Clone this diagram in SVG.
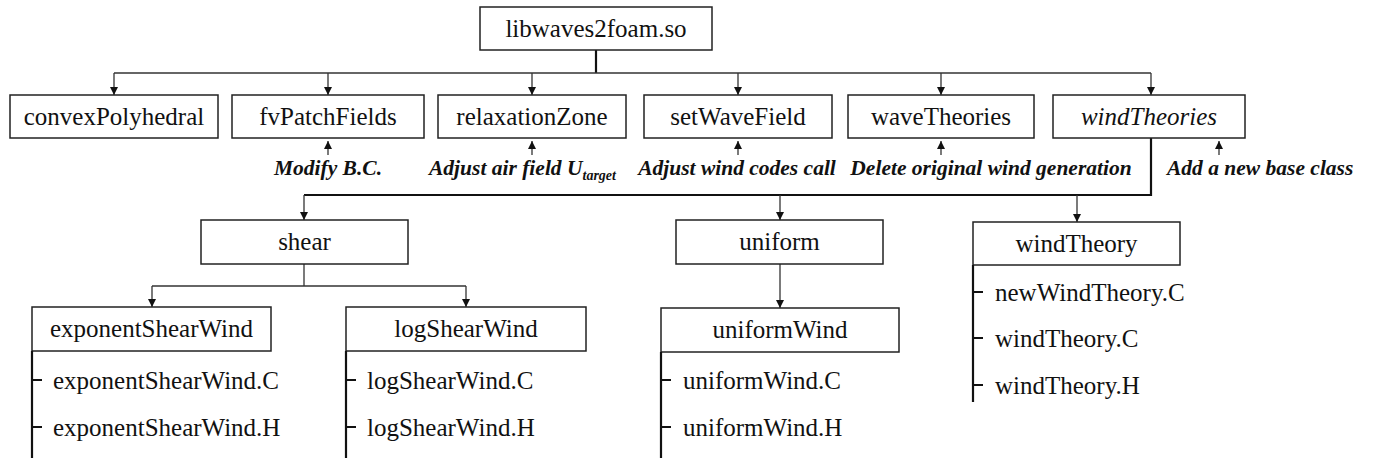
<svg xmlns="http://www.w3.org/2000/svg" width="1373" height="458" viewBox="0 0 1373 458">
<defs>
<marker id="ah" viewBox="0 0 10 10" refX="10" refY="5" markerWidth="8" markerHeight="8" markerUnits="userSpaceOnUse" orient="auto">
<path d="M0,0 L10,5 L0,10 z" fill="#111"/>
</marker>
</defs>
<style>
.box{fill:#fff;stroke:#222;stroke-width:1.5}
.t{font-family:"Liberation Serif","Times New Roman",serif;font-size:25px;fill:#111}
.c{text-anchor:middle}
.it{font-style:italic}
.lab{font-family:"Liberation Serif","Times New Roman",serif;font-size:21.5px;font-weight:bold;font-style:italic;fill:#111}
.ln{fill:none;stroke:#333;stroke-width:1.3}
.thick{fill:none;stroke:#111;stroke-width:2.2}
.arr{fill:none;stroke:#333;stroke-width:1.3;marker-end:url(#ah)}
.tree{fill:none;stroke:#111;stroke-width:2.2}
</style>
<rect width="1373" height="458" fill="#fff"/>

<g id="connectors">
<line class="thick" x1="596" y1="50" x2="596" y2="73"/>
<line class="ln" x1="114" y1="73" x2="1151" y2="73"/>
<line class="arr" x1="114" y1="73" x2="114" y2="95"/>
<line class="arr" x1="328" y1="73" x2="328" y2="95"/>
<line class="arr" x1="532" y1="73" x2="532" y2="95"/>
<line class="arr" x1="738" y1="73" x2="738" y2="95"/>
<line class="arr" x1="941" y1="73" x2="941" y2="95"/>
<line class="arr" x1="1151" y1="73" x2="1151" y2="95"/>
<line class="arr" x1="328" y1="155" x2="328" y2="141"/>
<line class="arr" x1="532" y1="155" x2="532" y2="141"/>
<line class="arr" x1="738" y1="155" x2="738" y2="141"/>
<line class="arr" x1="941" y1="155" x2="941" y2="141"/>
<line class="arr" x1="1219" y1="155" x2="1219" y2="141"/>
<polyline class="thick" points="1151,138 1151,195 304,195"/>
<line class="arr" x1="304" y1="195" x2="304" y2="220"/>
<line class="arr" x1="780" y1="195" x2="780" y2="220"/>
<line class="arr" x1="1077" y1="195" x2="1077" y2="222"/>
<line class="ln" x1="304" y1="264" x2="304" y2="286"/>
<line class="ln" x1="152" y1="286" x2="466" y2="286"/>
<line class="arr" x1="152" y1="286" x2="152" y2="307"/>
<line class="arr" x1="466" y1="286" x2="466" y2="307"/>
<line class="arr" x1="780" y1="264" x2="780" y2="308"/>
</g>

<g id="libwaves2foam">
<rect class="box" x="480" y="7" width="232" height="43"/>
<text class="t c" x="596" y="37">libwaves2foam.so</text>
</g>

<g id="convexPolyhedral">
<rect class="box" x="10" y="95" width="208" height="43"/>
<text class="t c" x="114" y="125">convexPolyhedral</text>
</g>
<g id="fvPatchFields">
<rect class="box" x="232" y="95" width="192" height="43"/>
<text class="t c" x="328" y="125">fvPatchFields</text>
</g>
<g id="relaxationZone">
<rect class="box" x="438" y="95" width="188" height="43"/>
<text class="t c" x="532" y="125">relaxationZone</text>
</g>
<g id="setWaveField">
<rect class="box" x="644" y="95" width="188" height="43"/>
<text class="t c" x="738" y="125">setWaveField</text>
</g>
<g id="waveTheories">
<rect class="box" x="848" y="95" width="186" height="43"/>
<text class="t c" x="941" y="125">waveTheories</text>
</g>
<g id="windTheories">
<rect class="box" x="1053" y="95" width="192" height="43"/>
<text class="t c it" x="1149" y="125">windTheories</text>
</g>

<g id="labels">
<text class="lab c" x="328" y="175">Modify B.C.</text>
<text class="lab" x="429" y="175">Adjust air field U<tspan font-size="14" dy="5">target</tspan></text>
<text class="lab c" x="737" y="175">Adjust wind codes call</text>
<text class="lab c" x="991" y="175">Delete original wind generation</text>
<text class="lab" x="1167" y="175">Add a new base class</text>
</g>

<g id="shear">
<rect class="box" x="201" y="220" width="207" height="44"/>
<text class="t c" x="304.5" y="250">shear</text>
</g>
<g id="uniform">
<rect class="box" x="676" y="220" width="207" height="44"/>
<text class="t c" x="779.5" y="250">uniform</text>
</g>
<g id="windTheory">
<rect class="box" x="973" y="222" width="207" height="43"/>
<text class="t c" x="1076.5" y="252">windTheory</text>
<path class="tree" d="M973,265 V402 M973,292 H983 M973,338 H983 M973,385 H983"/>
<text class="t" x="995" y="301">newWindTheory.C</text>
<text class="t" x="995" y="347">windTheory.C</text>
<text class="t" x="995" y="394">windTheory.H</text>
</g>

<g id="exponentShearWind">
<rect class="box" x="32" y="307" width="239" height="44"/>
<text class="t c" x="151.5" y="337">exponentShearWind</text>
<path class="tree" d="M32,351 V458 M32,380 H42 M32,427 H42"/>
<text class="t" x="53" y="389">exponentShearWind.C</text>
<text class="t" x="53" y="436">exponentShearWind.H</text>
</g>
<g id="logShearWind">
<rect class="box" x="346" y="307" width="240" height="44"/>
<text class="t c" x="466" y="337">logShearWind</text>
<path class="tree" d="M346,351 V458 M346,380 H356 M346,427 H356"/>
<text class="t" x="367" y="389">logShearWind.C</text>
<text class="t" x="367" y="436">logShearWind.H</text>
</g>
<g id="uniformWind">
<rect class="box" x="661" y="308" width="238" height="44"/>
<text class="t c" x="780" y="338">uniformWind</text>
<path class="tree" d="M661,352 V458 M661,380 H671 M661,427 H671"/>
<text class="t" x="683" y="389">uniformWind.C</text>
<text class="t" x="683" y="436">uniformWind.H</text>
</g>
</svg>
